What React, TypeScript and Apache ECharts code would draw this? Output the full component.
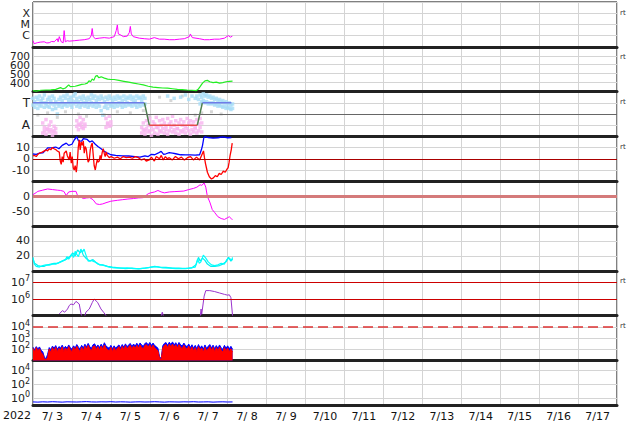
import React, { useEffect, useRef } from 'react';
import * as echarts from 'echarts';

const DAY_LABELS = ['7/ 3', '7/ 4', '7/ 5', '7/ 6', '7/ 7', '7/ 8', '7/ 9', '7/10', '7/11', '7/12', '7/13', '7/14', '7/15', '7/16', '7/17'];
const YEAR_LABEL = '2022';
const RT_LABEL = 'rt';
const FLARE_CLASSES: [number, string][] = [[1e-4, 'X'], [1e-5, 'M'], [1e-6, 'C']];
const SECTOR_LABELS: [number, string][] = [[3, 'T'], [1, 'A']];

// hours since 2022-07-03 00:00 UT, value
const XRAY: [number, number][] = [[0, 3.5e-7], [0.7, 1.9e-7], [2.6, 2.3e-7], [4.4, 2.6e-7], [6.9, 2.8e-7], [8.5, 2.2e-7], [10, 2.3e-7], [11.5, 3.0e-7], [13.1, 2.8e-7], [14.9, 5.3e-7], [15.5, 2.8e-7], [16.2, 8.1e-7], [17.4, 2.8e-7], [18.6, 2.3e-7], [19.2, 2.8e-6], [19.9, 2.8e-7], [21.1, 3.5e-7], [22.3, 3.2e-7], [25.4, 3.5e-7], [28.5, 3.9e-7], [31.6, 4.3e-7], [34.7, 5.3e-7], [35.9, 1e-6], [36.5, 4.3e-6], [37.1, 8.1e-7], [38.4, 5.3e-7], [40.8, 5.9e-7], [43.9, 6.6e-7], [47, 5.9e-7], [50.1, 8.1e-7], [51.3, 2.8e-6], [52, 9e-6], [52.6, 1.4e-6], [53.8, 1.2e-6], [55.7, 8.1e-7], [58.1, 9e-7], [59.4, 1.9e-6], [60, 6.6e-6], [60.6, 1.4e-6], [61.8, 8.1e-7], [65.5, 5.9e-7], [68.6, 5.3e-7], [71.7, 4.8e-7], [74.8, 6.6e-7], [77.9, 4.8e-7], [80.9, 4.8e-7], [84, 4.3e-7], [87.1, 4.3e-7], [90.2, 4.8e-7], [93.3, 5.3e-7], [96.4, 8.1e-7], [97, 1.4e-6], [98.2, 6.6e-7], [102.5, 5.3e-7], [105.6, 4.3e-7], [108.7, 4.3e-7], [111.8, 4.8e-7], [114.9, 4.8e-7], [118, 5.9e-7], [120.4, 1e-6], [121.7, 7.3e-7], [122.9, 9e-7]];

const SPEED: [number, number][] = [[0, 310], [2, 305], [5, 315], [8, 318], [11, 320], [14, 325], [17, 345], [18.5, 330], [20, 340], [22, 375], [23, 355], [26, 360], [28, 370], [30, 380], [32, 385], [33.5, 395], [34.5, 420], [35.5, 410], [36.5, 440], [37.5, 425], [38.5, 470], [39.5, 480], [40.5, 455], [42, 465], [44, 450], [46, 440], [48, 435], [50, 435], [53, 425], [56, 415], [59, 405], [62, 395], [65, 385], [68, 375], [71, 360], [74, 350], [77, 345], [80, 340], [83, 338], [86, 332], [89, 325], [92, 322], [95, 318], [98, 315], [100.5, 310], [102, 330], [103, 355], [104.5, 395], [106, 420], [107.5, 425], [109, 410], [111, 400], [113, 405], [115, 395], [117, 400], [119, 410], [121, 415], [123, 418]];

// sector state (hourly samples from 00 UT)
const SECTOR_T_UPPER = [3.4, 3.1, 3.5, 3.3, 3.6, 3.2, 3.4, 3.7, 3.0, 3.3, 3.5, 3.2, 3.6, 3.4, 3.1, 2.9, 3.3, 3.5, 3.2, 3.6, 3.4, 3.7, 3.3, 3.5, 3.2, 3.6, 3.8, 3.4, 3.1, 3.5, 3.3, 3.6, 3.4, 3.2, 3.5, 3.3, 3.7, 3.4, 3.6, 3.2, 3.5, 3.3, 3.6, 3.4, 3.1, 3.5, 3.3, 3.6, 3.4, 3.2, 3.5, 3.3, 3.6, 3.4, 3.5, 3.2, 3.6, 3.3, 3.5, 3.4, 3.6, 3.3, 3.5, 3.2, 3.6, 3.4, 3.5, 3.3, 3.6, 3.4, null, null, null, null, null, null, null, null, null, null, null, null, null, 3.6, null, null, null, 3.4, null, null, null, 3.5, null, null, 3.7, null, 3.3, null, 3.6, null, 3.4, 3.6, 3.3, 3.7, 3.5, 3.8, 3.6, 3.7, 3.5, 3.6, 3.4, 3.5, 3.3, 3.4, 3.2, 3.3, 3.1, 3.2, 3.0, 3.1, 2.9, 3.0, 2.8, 2.9];
const SECTOR_T_LOWER = [2.8, 2.6, 2.9, 2.5, 2.8, 2.7, 3.0, 2.6, 2.9, 2.7, 2.6, 2.9, 2.4, 2.8, 2.5, 2.0, 2.7, 2.9, 2.6, 2.8, 2.9, 2.7, 3.0, 2.8, 2.6, 2.9, 3.1, 2.7, 2.9, 2.6, 2.8, 3.0, 2.7, 2.9, 2.6, 2.8, 3.0, 2.7, 2.9, 2.6, 2.9, 2.7, 2.3, 1.9, 2.6, 2.8, 2.5, 2.9, 2.7, 2.8, 2.6, 2.9, 2.7, 3.0, 2.8, 2.6, 2.9, 2.7, 3.0, 2.8, 2.9, 2.7, 3.0, 2.8, 2.6, 2.9, 2.7, 3.0, 2.8, 2.9, null, null, null, null, null, null, null, null, null, null, null, null, null, null, null, null, null, null, null, null, null, null, null, null, null, null, null, null, null, null, null, null, null, 2.9, 3.1, 3.2, 3.0, 3.1, 2.9, 3.0, 2.9, 3.0, 2.8, 2.9, 2.7, 2.8, 2.7, 2.6, 2.7, 2.5, 2.6, 2.5, 2.4, 2.5];
const SECTOR_A_UPPER = [null, null, null, null, null, null, 1.2, 0.8, 1.5, 0.6, 1.0, 1.3, 0.4, 0.9, 0.7, null, null, null, null, null, null, null, null, null, null, null, null, 1.4, 1.1, 1.7, 1.2, 1.5, 0.9, null, null, null, null, null, null, null, null, null, null, null, null, 1.6, 1.1, 1.8, 1.3, null, null, null, null, null, null, null, null, null, null, null, null, null, null, null, null, null, null, 0.8, 1.2, 0.5, 1.4, 1.0, 1.6, 0.9, 1.3, 1.1, 1.7, 0.8, 1.4, 1.0, 1.5, 1.2, 0.9, 1.6, 1.1, 1.3, 1.8, 1.0, 1.4, 0.7, 1.2, 1.5, 1.0, 1.3, 0.9, 1.6, 1.2, 1.4, 1.0, 1.3, 0.8, 1.5, 1.1, 1.6, 1.2, null, null, null, null, null, null, null, null, null, null, null, null, null, null, null, null, null, null, null];
const SECTOR_A_LOWER = [null, null, null, null, null, null, 0.3, 0.5, 0.2, 0.7, 0.4, 0.6, 0.1, 0.5, 0.3, null, null, null, null, null, null, null, null, null, null, null, null, 0.9, 0.6, 1.0, 0.8, 0.7, 1.1, null, null, null, null, null, null, null, null, null, null, null, null, 0.8, 1.2, 0.9, 1.0, null, null, null, null, null, null, null, null, null, null, null, null, null, null, null, null, null, null, 0.3, 0.6, 0.2, 0.7, 0.4, 0.5, 0.1, 0.6, 0.3, 0.8, 0.2, 0.5, 0.4, 0.7, 0.3, 0.6, 0.2, 0.5, 0.8, 0.4, 0.6, 0.3, 0.7, 0.2, 0.5, 0.4, 0.6, 0.3, 0.7, 0.5, 0.2, 0.6, 0.4, 0.7, 0.3, 0.5, 0.8, 0.4, null, null, null, null, null, null, null, null, null, null, null, null, null, null, null, null, null, null, null];
const SECTOR_GRAY: [number, number][] = [[3, 1.9], [9, 2.1], [15, 1.7], [20, 2.2], [28, 2.0], [33, 1.8], [44, 1.9], [52, 2.2], [60, 2.1], [68, 2.3], [72, 1.8], [78, 3.5], [85, 3.2], [92, 3.6], [100, 1.9], [104, 2.1], [110, 2.2], [116, 2.0]];
const STATE_T_1: [number, number][] = [[0, 3], [68.7, 3]];
const STATE_DOWN: [number, number][] = [[68.7, 3], [71.7, 1]];
const STATE_A: [number, number][] = [[71.7, 1], [101.3, 1]];
const STATE_UP: [number, number][] = [[101.3, 1], [104.4, 3]];
const STATE_T_2: [number, number][] = [[104.4, 3], [122.3, 3]];

const BT: [number, number][] = [[0, 4.3], [2, 4], [4, 5], [6, 5.2], [8, 8], [9, 9.7], [12, 10], [14, 10.5], [16, 9], [18, 12], [20.5, 14], [22, 12], [24, 13], [25.5, 17], [27, 19.7], [28, 16], [30, 15.7], [31, 18], [33.4, 17.3], [35, 15], [36.5, 16], [38.4, 13], [40, 11], [42, 9], [44, 6.6], [46, 5], [48, 3.6], [51, 3], [55, 2.7], [59, 2.5], [63, 2], [66, 1.5], [69, 2.7], [71, 2], [73, 4], [75, 3.6], [77, 5], [79, 6.6], [80.5, 4], [82, 4.5], [84, 5.5], [86, 5], [88, 4.5], [91, 3.6], [94, 3.5], [97, 3.5], [100, 3.3], [102.7, 3.6], [103.8, 8], [104.5, 12], [105.3, 18.8], [106, 19.8], [108, 19], [111, 18.5], [114, 18.8], [117, 19.5], [120, 18.8], [122.3, 19]];
const BZ: [number, number][] = [[0, 2.7], [1, 3], [2, 2], [3, 4], [4, 5], [5.7, 6], [8.1, 8], [9, 7], [10, 9], [11, 8], [11.8, 10], [13, 9], [14.3, 8], [15, 7], [16.2, 6], [16.8, -2], [17.4, -5], [18, 2], [18.6, -3], [19.2, 5], [20.5, 7], [21.1, 3], [22.3, -1], [22.9, 6], [23.6, -4], [24.2, 2], [24.8, -8], [25.4, -10], [26, -6], [26.7, -12], [27.3, -4], [27.9, 10], [28.5, 17], [29.1, 8], [29.7, 15], [30.4, 12], [31, 16], [31.6, 5], [32.2, 11], [32.8, 9], [33.4, 2], [34, -3], [34.7, -1], [35.3, 8], [35.9, 12], [36.5, 14], [37.1, 4], [37.7, -6], [38.4, -10], [39, -5], [39.6, -1], [40.2, -3], [40.8, -2], [41.4, 3], [42, 0], [42.7, 6], [43.3, 9], [43.9, 5], [44.5, 2], [45.1, 6], [45.8, 3], [47, 1], [48.2, 2], [50.1, 0.5], [52, 1.5], [53.8, 0], [55.7, 2], [57.5, 1], [59.4, 1.5], [61.2, 0.5], [63.1, 2], [65, 1], [66.8, -1], [68.6, 0], [69.8, -2], [71.7, -1], [73, 1.5], [74.8, -2], [76, 2], [77.9, 0], [79.1, 3], [80.3, -1], [81.6, 2], [82.8, 0], [84, 1], [85.9, -1], [87.8, 2], [89.6, 0], [91.5, 1.5], [93.3, -1], [95.2, 1], [97.1, 2], [98.9, -1], [100.8, 1.5], [102.7, -1], [103.9, 3], [105.1, 7], [105.7, 1], [106.3, -4], [106.9, -8], [107.5, -12], [108.7, -16], [110, -18], [111.2, -17], [112.4, -15], [113.6, -16], [114.8, -13], [116, -14], [117.3, -11], [118.5, -12], [119.7, -9], [120.3, -8], [120.9, -3], [121.5, 3], [122.2, 8], [122.8, 14]];

const DST: [number, number][] = [[0, 5], [2, 12], [3, 16], [6, 20], [9, 24], [12, 22], [15, 20], [17, 19], [19, 16], [20.5, 2], [22, 14], [24, 16], [26.5, 16], [28, -6], [29, -2], [31, -8], [33, -6], [35, -5], [37, -12], [39, -26], [41, -28], [43, -26], [45, -22], [48, -17], [52, -14], [55, -12], [58, -10], [62, -8], [65, -6], [68, -5], [71, 8], [72.5, 11], [75, 14], [77, 19], [79, 14], [81, 11], [84, 14], [87, 15], [90, 16], [93, 17], [96, 22], [99, 26], [101, 30], [103, 38], [104, 36], [105.5, 44], [106.5, 30], [107.5, -1], [109, -20], [110.5, -45], [112, -55], [114, -69], [116, -75], [118, -78], [120, -72], [121, -69], [122.3, -76], [123, -78]];

const KP_A: [number, number][] = [[0, 18], [0.8, 9], [2, 6], [4, 5], [6, 7], [8, 8], [10, 7.6], [12, 9], [14, 9], [16, 11], [18, 13], [20, 15], [21, 19], [22, 15.6], [24, 22], [25, 18], [26, 26], [27, 22], [28, 19], [29.5, 29], [30.5, 25], [31.5, 29], [32.5, 22], [34, 13], [36, 14], [38, 12], [40, 9], [42, 8], [44, 7], [47, 5], [50, 4], [54, 3.6], [58, 4], [62, 3], [66, 3], [70, 4], [73, 5], [76, 5.5], [80, 4], [84, 3.5], [88, 3], [92, 3], [96, 3.5], [100, 5], [101.5, 16], [102.5, 10], [103.5, 12], [105, 21], [106.5, 17], [108, 12], [110, 8], [112, 7], [114, 8], [116, 10], [118, 9], [119.5, 15], [121, 17], [122.5, 14], [123, 18]];
const KP_B: [number, number][] = [[0, 16], [1, 10], [3, 7], [5, 6], [7, 6], [9, 8], [11, 9], [13, 10], [15, 10], [17, 12], [19, 14], [21, 16], [23, 20], [24.5, 24], [26, 20], [27.5, 28], [29, 24], [30, 27], [31, 21], [33, 16], [35, 13], [37, 15], [39, 11], [41, 8], [43, 8], [46, 6], [49, 5], [53, 4], [57, 3], [61, 3.5], [65, 2.5], [69, 3.5], [72, 4.5], [75, 6], [78, 5], [82, 4.5], [86, 3.5], [90, 3.5], [94, 3], [98, 4], [100.5, 8], [102, 18], [103, 13], [104.5, 17], [106, 14], [107.5, 9], [109.5, 6], [112, 6], [115, 7], [117, 9], [119, 12], [120.5, 18], [122, 13], [123, 16]];

const ELECTRON_SEGMENTS: [number, number][][] = [
  [[16.2, 1.26e5], [18.2, 2e5], [19.5, 1.6e5], [21.3, 2.5e5], [22.3, 4e5], [23.4, 5e5], [25, 4.5e5], [26.5, 7.2e5], [28.5, 5e5], [29.6, 1.26e5], [30, 1e5]],
  [[32, 1e5], [32.6, 1.6e5], [34.7, 2.5e5], [36.5, 6e5], [37.7, 1e6], [39.8, 6.3e5], [41.9, 2.5e5], [43.5, 1.6e5], [45, 1e5]],
  [[79.1, 1e5], [79.7, 1.6e5], [80.3, 1e5]],
  [[103.2, 1e5], [103.6, 2.5e5], [104, 1.2e5], [105.5, 1.5e6], [106.5, 3.2e6], [109, 3.2e6], [112, 2.8e6], [115, 2.3e6], [118, 1.9e6], [120, 1.7e6], [121, 1.8e6], [122, 1.2e6], [123, 1e5]],
];

// hourly samples
const PROTON_BLUE = [150, 90, 170, 110, 160, 80, 60, 20, 14, 35, 140, 90, 190, 120, 210, 100, 170, 130, 230, 110, 180, 120, 240, 140, 100, 200, 130, 260, 150, 110, 220, 130, 280, 160, 330, 170, 120, 250, 300, 150, 240, 140, 280, 160, 380, 190, 150, 120, 220, 110, 200, 120, 180, 240, 130, 260, 150, 300, 160, 250, 320, 170, 290, 190, 340, 200, 360, 230, 180, 330, 380, 240, 400, 220, 350, 210, 170, 120, 22, 14, 200, 330, 390, 220, 420, 260, 450, 240, 380, 210, 400, 240, 190, 350, 210, 170, 290, 140, 250, 120, 220, 110, 260, 130, 200, 100, 240, 120, 180, 260, 130, 230, 110, 210, 120, 240, 130, 100, 220, 120, 200, 110, 180, 100];
const PROTON_RED = [120, 60, 140, 70, 110, 50, 35, 13, 12, 18, 100, 50, 140, 70, 150, 60, 120, 80, 160, 60, 130, 70, 170, 90, 60, 150, 80, 180, 100, 60, 150, 70, 190, 100, 220, 110, 70, 170, 200, 90, 170, 80, 190, 100, 240, 120, 90, 70, 150, 60, 140, 70, 120, 170, 80, 180, 90, 210, 100, 170, 220, 100, 200, 120, 230, 130, 240, 140, 110, 220, 250, 150, 260, 130, 230, 130, 100, 70, 16, 12, 130, 220, 260, 140, 280, 160, 290, 150, 250, 130, 260, 150, 110, 230, 130, 100, 190, 80, 160, 70, 140, 60, 170, 80, 130, 55, 150, 70, 110, 170, 80, 150, 60, 140, 70, 160, 80, 55, 140, 70, 130, 60, 110, 55];
// 3-hourly samples
const HIGH_PROTON = [0.30, 0.28, 0.31, 0.29, 0.32, 0.30, 0.28, 0.31, 0.30, 0.29, 0.31, 0.33, 0.30, 0.29, 0.31, 0.30, 0.32, 0.29, 0.31, 0.30, 0.28, 0.30, 0.31, 0.29, 0.30, 0.32, 0.30, 0.28, 0.31, 0.30, 0.29, 0.31, 0.30, 0.32, 0.29, 0.30, 0.31, 0.28, 0.30, 0.31, 0.29, 0.30];

const FONT = 'DejaVu Sans';
const N = 9;
const TOP = 2;
const PH = 44.8;
const GRID_C = '#d4d4d4';

const sampled = (arr: (number | null)[], step: number) =>
  arr.map((v, i) => [i * step, v] as [number, number | null]);
const points = (arr: (number | null)[], step: number) =>
  sampled(arr, step).filter((p) => p[1] !== null);

const powLabel = (allowed: number[]) => (v: number) => {
  const e = Math.round(Math.log10(v));
  if (Math.abs(Math.log10(v) - e) > 1e-6 || allowed.indexOf(e) < 0) return '';
  return '10{e|' + e + '}';
};

export default function App() {
  const ref = useRef<HTMLDivElement>(null);
  useEffect(() => {
    if (!ref.current) return;
    const chart = echarts.init(ref.current, undefined, { renderer: 'svg' });

    const grids = [];
    const xAxes: any[] = [];
    for (let i = 0; i < N; i++) {
      grids.push({ left: 33, right: 17, top: TOP + i * PH, height: PH, show: true, borderColor: '#000', borderWidth: 1, backgroundColor: 'transparent' });
      xAxes.push({
        type: 'value', gridIndex: i, min: 0, max: 360, interval: 24,
        position: i === N - 1 ? 'top' : 'bottom',
        axisLine: { show: i !== N - 1, onZero: false, lineStyle: { color: '#222', width: 3 } },
        axisTick: { show: false }, axisLabel: { show: false },
        splitLine: { show: true, lineStyle: { color: GRID_C, width: 1 } },
      });
    }
    xAxes.push({
      type: 'category', gridIndex: N - 1, data: DAY_LABELS, position: 'bottom', boundaryGap: true,
      axisLine: { show: true, onZero: false, lineStyle: { color: '#222', width: 3 } },
      axisTick: { show: false }, splitLine: { show: false },
      axisLabel: { interval: 0, fontFamily: FONT, fontSize: 11, color: '#111', margin: 6 },
    });

    const lbl = (extra: any = {}) => ({ fontFamily: FONT, fontSize: 11, color: '#222', margin: 3, ...extra });
    const rich = { e: { fontFamily: FONT, fontSize: 8, padding: [0, 0, 7, 0] } };
    const base = (i: number) => ({
      gridIndex: i, position: 'left',
      axisLine: { show: false, onZero: false }, axisTick: { show: false },
      splitLine: { show: true, lineStyle: { color: GRID_C, width: 1 } },
    });
    const yAxes: any[] = [
      { ...base(0), type: 'log', logBase: 10, min: 1e-7, max: 1e-3,
        axisLabel: lbl({ fontSize: 11, lineHeight: 10, formatter: (v: number) => { const f = FLARE_CLASSES.find((c) => Math.abs(Math.log10(c[0]) - Math.log10(v)) < 1e-6); return f ? f[1] : ''; } }) },
      { ...base(1), type: 'value', min: 300, max: 800, interval: 100,
        axisLabel: lbl({ fontSize: 10.5, lineHeight: 8, formatter: (v: number) => (v > 300 && v < 800 ? String(v) : '') }) },
      { ...base(2), type: 'value', min: 0, max: 4, interval: 1,
        axisLabel: lbl({ fontSize: 12, formatter: (v: number) => { const f = SECTOR_LABELS.find((c) => c[0] === v); return f ? f[1] : ''; } }) },
      { ...base(3), type: 'value', min: -20, max: 20, interval: 10,
        axisLabel: lbl({ formatter: (v: number) => (Math.abs(v) < 20 ? String(v) : '') }) },
      { ...base(4), type: 'value', min: -100, max: 50, interval: 50,
        axisLabel: lbl({ formatter: (v: number) => (v === 0 || v === -50 ? String(v) : '') }) },
      { ...base(5), type: 'value', min: 0, max: 60, interval: 20,
        axisLabel: lbl({ formatter: (v: number) => (v === 20 || v === 40 ? String(v) : '') }) },
      { ...base(6), type: 'log', logBase: 10, min: 1e5, max: 5e7,
        axisLabel: lbl({ formatter: powLabel([6, 7]), rich }) },
      { ...base(7), type: 'log', logBase: 10, min: 10, max: 1e5,
        axisLabel: lbl({ lineHeight: 10, formatter: powLabel([2, 3, 4]), rich }) },
      { ...base(8), type: 'log', logBase: 10, min: 0.1, max: 316228,
        splitLine: { show: false },
        axisLabel: lbl({ formatter: powLabel([0, 2, 4]), rich }) },
    ];

    const line = (i: number, data: any[], color: string, width = 1, extra: any = {}) => ({
      type: 'line', xAxisIndex: i, yAxisIndex: i, data, symbol: 'none', showSymbol: false,
      lineStyle: { color, width }, itemStyle: { color }, silent: true, animation: false, ...extra,
    });
    const scatter = (i: number, data: any[], color: string, size = 3) => ({
      type: 'scatter', xAxisIndex: i, yAxisIndex: i, data, symbol: 'rect', symbolSize: size,
      itemStyle: { color }, silent: true, animation: false,
    });
    const mark = (items: any[]) => ({
      silent: true, symbol: ['none', 'none'], label: { show: false }, animation: false, data: items,
    });
    const hl = (v: number, color: string, width = 1, type: any = 'solid') => ({ yAxis: v, lineStyle: { color, width, type } });

    const series: any[] = [
      line(0, XRAY, '#ff00ff', 1),
      line(1, SPEED, '#22ee22', 1.2),
      { ...scatter(2, SECTOR_GRAY, '#cccccc', 3), markLine: mark([hl(2, '#666666', 1)]) },
      scatter(2, points(SECTOR_T_UPPER, 1), '#a6dcf6', 3.5),
      scatter(2, points(SECTOR_T_LOWER, 1), '#a6dcf6', 3.5),
      scatter(2, points(SECTOR_A_UPPER, 1), '#f7b3ef', 3.5),
      scatter(2, points(SECTOR_A_LOWER, 1), '#f7b3ef', 3.5),
      line(2, STATE_T_1, '#6e7de8', 1.5),
      line(2, STATE_DOWN, '#4f7f4f', 1.5),
      line(2, STATE_A, '#e84a4a', 1.5),
      line(2, STATE_UP, '#4f7f4f', 1.5),
      line(2, STATE_T_2, '#6e7de8', 1.5),
      { ...line(3, BT, '#0000ff', 1.3), markLine: mark([hl(0, '#aa0000', 1)]) },
      line(3, BZ, '#ff0000', 1.3),
      { ...line(4, DST, '#ff00ff', 1), markLine: mark([hl(0, '#d47a7a', 3)]) },
      line(5, KP_B, '#00f0f0', 1.2),
      line(5, KP_A, '#00ffff', 1.2),
      ...ELECTRON_SEGMENTS.map((seg, k) => ({
        ...line(6, seg, '#9933cc', 1),
        ...(k === 0 ? { markLine: mark([hl(1e6, '#cc0000', 1), hl(1e7, '#cc0000', 1)]) } : {}),
      })),
      line(7, sampled(PROTON_BLUE, 1), '#0000ff', 1, { areaStyle: { color: '#0000ff', opacity: 1, origin: 'start' } }),
      { ...line(7, sampled(PROTON_RED, 1), '#ff0000', 1, { areaStyle: { color: '#ff0000', opacity: 1, origin: 'start' } }),
        markLine: mark([hl(1e4, '#dd3333', 1.5, [10, 5])]) },
      { ...line(8, sampled(HIGH_PROTON, 3), '#0000ff', 1),
        markLine: mark([hl(1, GRID_C, 1), hl(100, GRID_C, 1), hl(1e4, GRID_C, 1)]) },
    ];

    const rtRows = [0, 1, 2, 3, 6, 7];
    const graphic: any[] = [
      { type: 'text', left: 3, top: 410, style: { text: YEAR_LABEL, font: `11px ${FONT}`, fill: '#111' } },
      ...rtRows.map((r) => ({
        type: 'text', left: 620, top: TOP + r * PH + 7,
        style: { text: RT_LABEL, font: `7px ${FONT}`, fill: '#333' },
      })),
    ];

    chart.setOption({
      animation: false,
      backgroundColor: '#fff',
      grid: grids,
      xAxis: xAxes,
      yAxis: yAxes,
      series,
      graphic,
    });
    return () => chart.dispose();
  }, []);
  return <div ref={ref} style={{ position: 'absolute', left: 0, top: 0, width: 634, height: 424 }} />;
}
